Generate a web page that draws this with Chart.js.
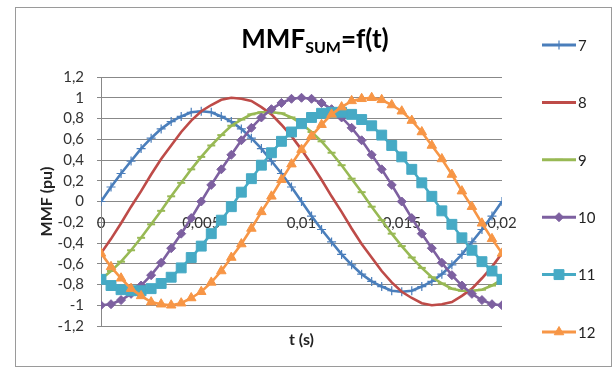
<!DOCTYPE html>
<html>
<head>
<meta charset="utf-8">
<script src="https://cdn.jsdelivr.net/npm/chart.js@4.4.1/dist/chart.umd.min.js"></script>
<style>
  html, body { margin: 0; padding: 0; background: #fff; }
  #wrap { width: 614px; height: 368px; position: relative; }
</style>
</head>
<body>
<div id="wrap"><canvas id="myChart"></canvas></div>
<script>
// time samples (s)
const timeValues = [0, 0.0005, 0.001, 0.0015, 0.002, 0.0025, 0.003, 0.0035, 0.004, 0.0045,
  0.005, 0.0055, 0.006, 0.0065, 0.007, 0.0075, 0.008, 0.0085, 0.009, 0.0095,
  0.01, 0.0105, 0.011, 0.0115, 0.012, 0.0125, 0.013, 0.0135, 0.014, 0.0145,
  0.015, 0.0155, 0.016, 0.0165, 0.017, 0.0175, 0.018, 0.0185, 0.019, 0.0195, 0.02];

const seriesNames = ['7', '8', '9', '10', '11', '12'];

// MMF (pu)
const mmf7 = [0, 0.14, 0.27, 0.39, 0.51, 0.61, 0.70, 0.77, 0.82, 0.86,
  0.87, 0.86, 0.82, 0.77, 0.70, 0.61, 0.51, 0.39, 0.27, 0.14,
  0, -0.14, -0.27, -0.39, -0.51, -0.61, -0.70, -0.77, -0.82, -0.86,
  -0.87, -0.86, -0.82, -0.77, -0.70, -0.61, -0.51, -0.39, -0.27, -0.14, 0];
const mmf8 = [-0.5, -0.36, -0.21, -0.05, 0.10, 0.26, 0.41, 0.54, 0.67, 0.78,
  0.87, 0.93, 0.98, 1.00, 0.99, 0.97, 0.91, 0.84, 0.74, 0.63,
  0.5, 0.36, 0.21, 0.05, -0.10, -0.26, -0.41, -0.54, -0.67, -0.78,
  -0.87, -0.93, -0.98, -1.00, -0.99, -0.97, -0.91, -0.84, -0.74, -0.63, -0.5];
const mmf9 = [-0.75, -0.67, -0.58, -0.47, -0.35, -0.22, -0.09, 0.05, 0.18, 0.31,
  0.43, 0.54, 0.64, 0.73, 0.79, 0.84, 0.86, 0.86, 0.85, 0.81,
  0.75, 0.67, 0.58, 0.47, 0.35, 0.22, 0.09, -0.05, -0.18, -0.31,
  -0.43, -0.54, -0.64, -0.73, -0.79, -0.84, -0.86, -0.86, -0.85, -0.81, -0.75];
const mmf10 = [-1, -0.99, -0.95, -0.89, -0.81, -0.71, -0.59, -0.45, -0.31, -0.16,
  0, 0.16, 0.31, 0.45, 0.59, 0.71, 0.81, 0.89, 0.95, 0.99,
  1, 0.99, 0.95, 0.89, 0.81, 0.71, 0.59, 0.45, 0.31, 0.16,
  0, -0.16, -0.31, -0.45, -0.59, -0.71, -0.81, -0.89, -0.95, -0.99, -1];
const mmf11 = [-0.75, -0.81, -0.85, -0.86, -0.86, -0.84, -0.79, -0.73, -0.64, -0.54,
  -0.43, -0.31, -0.18, -0.05, 0.09, 0.22, 0.35, 0.47, 0.58, 0.67,
  0.75, 0.81, 0.85, 0.86, 0.86, 0.84, 0.79, 0.73, 0.64, 0.54,
  0.43, 0.31, 0.18, 0.05, -0.09, -0.22, -0.35, -0.47, -0.58, -0.67, -0.75];
const mmf12 = [-0.5, -0.63, -0.74, -0.84, -0.91, -0.97, -0.99, -1.00, -0.98, -0.93,
  -0.87, -0.78, -0.67, -0.54, -0.41, -0.26, -0.10, 0.05, 0.21, 0.36,
  0.5, 0.63, 0.74, 0.84, 0.91, 0.97, 0.99, 1.00, 0.98, 0.93,
  0.87, 0.78, 0.67, 0.54, 0.41, 0.26, 0.10, -0.05, -0.21, -0.36, -0.5];

const xTickValues = [0, 0.005, 0.01, 0.015, 0.02];
const yTickValues = [-1.2, -1, -0.8, -0.6, -0.4, -0.2, 0, 0.2, 0.4, 0.6, 0.8, 1, 1.2];

// look of each series (Excel palette)
const seriesColors = ['#4A7EBB', '#BE4B48', '#98B954', '#7D60A0', '#46AAC5', '#F79646'];
const seriesMarkers = ['cross', false, 'line', 'rectRot', 'rect', 'triangle'];
const markerRadius = [4.5, 0, 4, 4.5, 7, 5.5];
const markerBorder = [1.2, 0, 2, 1, 1, 1];

const allSeries = [mmf7, mmf8, mmf9, mmf10, mmf11, mmf12];

const fmt = v => String(Math.round(v * 1000) / 1000).replace('.', ',');

Chart.defaults.font.family = 'Lato';

// white page + thin grey frame like the Excel chart border
const frame = {
  id: 'frame',
  beforeDraw(chart) {
    const ctx = chart.ctx;
    ctx.save();
    ctx.fillStyle = '#fff';
    ctx.fillRect(0, 0, chart.width, chart.height);
    ctx.strokeStyle = '#9a9a9a';
    ctx.lineWidth = 1;
    ctx.strokeRect(15.5, 7.5, 596, 359);
    ctx.restore();
  }
};

// title with subscript
const subTitle = {
  id: 'subTitle',
  afterDraw(chart) {
    const ctx = chart.ctx;
    ctx.save();
    ctx.fillStyle = '#000';
    ctx.textBaseline = 'alphabetic';
    const big = 'bold 26px Lato', small = 'bold 16px Lato';
    ctx.font = big;
    const w1 = ctx.measureText('MMF').width, w3 = ctx.measureText('=f(t)').width;
    ctx.font = small;
    const w2 = ctx.measureText('SUM').width;
    let x = 315 - (w1 + w2 + w3) / 2;
    const base = 48;
    ctx.font = big; ctx.fillText('MMF', x, base); x += w1;
    ctx.font = small; ctx.fillText('SUM', x, base + 5); x += w2;
    ctx.font = big; ctx.fillText('=f(t)', x, base);
    ctx.restore();
  }
};

// legend on the right: line + marker + name
const sideLegend = {
  id: 'sideLegend',
  afterDraw(chart) {
    const ctx = chart.ctx;
    ctx.save();
    chart.data.datasets.forEach((ds, i) => {
      const y = 45 + i * 57.4;
      ctx.strokeStyle = ds.borderColor;
      ctx.fillStyle = ds.borderColor;
      ctx.lineWidth = 3;
      ctx.beginPath();
      ctx.moveTo(542, y);
      ctx.lineTo(576, y);
      ctx.stroke();
      if (ds.pointStyle) {
        ctx.lineWidth = ds.pointBorderWidth;
        Chart.helpers.drawPoint(ctx, {
          pointStyle: ds.pointStyle, radius: ds.pointRadius,
          rotation: 0, borderWidth: ds.pointBorderWidth
        }, 559, y);
      }
      ctx.fillStyle = '#222';
      ctx.font = '15px Lato';
      ctx.textBaseline = 'middle';
      ctx.fillText(ds.label, 578, y + 1);
    });
    ctx.restore();
  }
};

const ctx = document.getElementById('myChart').getContext('2d');
const myChart = new Chart(ctx, {
  type: 'line',
  data: {
    datasets: seriesNames.map((name, i) => ({
      label: name,
      data: timeValues.map((t, k) => ({ x: t, y: allSeries[i][k] })),
      borderColor: seriesColors[i],
      backgroundColor: seriesColors[i],
      borderWidth: 2.6,
      pointStyle: seriesMarkers[i],
      pointRadius: markerRadius[i],
      pointBorderWidth: markerBorder[i],
      pointHoverRadius: markerRadius[i],
      tension: 0,
      fill: false,
      order: seriesNames.length - i
    }))
  },
  options: {
    responsive: true,
    maintainAspectRatio: false,
    animation: false,
    layout: { padding: { left: 0, right: 112, top: 77, bottom: 0 } },
    plugins: {
      legend: { display: false },
      title: { display: false },
      tooltip: { enabled: false }
    },
    scales: {
      x: {
        type: 'linear',
        min: 0, max: 0.02,
        position: 'bottom',
        ticks: { display: false },
        grid: { display: false, drawTicks: false },
        border: { display: false },
        afterFit: s => { s.height = 42; },
        title: {
          display: true, text: 't (s)', color: '#222',
          font: { size: 16, weight: 'bold' },
          padding: { top: 0, bottom: 19 }
        }
      },
      x2: {
        type: 'linear',
        axis: 'x',
        min: 0, max: 0.02,
        position: { y: 0 },
        afterBuildTicks: s => { s.ticks = xTickValues.map(v => ({ value: v })); },
        ticks: { padding: 13, autoSkip: false, color: '#333', font: { size: 15 }, maxRotation: 0, callback: v => fmt(v) },
        grid: { display: false, drawTicks: false },
        border: { display: false }
      },
      y: {
        min: -1.2, max: 1.2,
        afterBuildTicks: s => { s.ticks = yTickValues.map(v => ({ value: v })); },
        afterFit: s => { s.width = 101; },
        ticks: { padding: 13, autoSkip: false, color: '#333', font: { size: 15 }, callback: v => fmt(v) },
        grid: { color: '#888888', tickLength: 4 },
        border: { display: true, color: '#888888' },
        title: {
          display: true, text: 'MMF (pu)', color: '#222',
          font: { size: 16, weight: 'bold' },
          padding: { top: 37, bottom: 0 }
        }
      }
    }
  },
  plugins: [frame, subTitle, sideLegend]
});
</script>
</body>
</html>
